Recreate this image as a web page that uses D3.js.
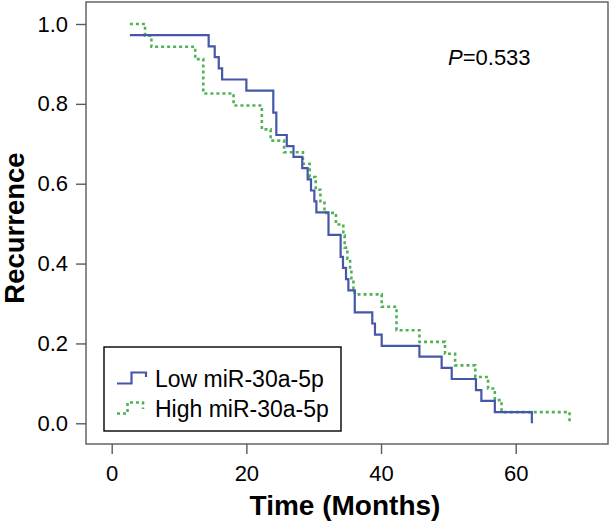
<!DOCTYPE html>
<html>
<head>
<meta charset="utf-8">
<script src="https://cdn.jsdelivr.net/npm/d3@7"></script>
<style>
  html, body { margin: 0; padding: 0; background: #fff; }
  svg { display: block; }
  text { font-family: "Liberation Sans", Arial, sans-serif; fill: #000; }
</style>
</head>
<body>
<svg id="chart" width="612" height="525"></svg>
<script>
// ---- data ----
const lowTime = [2.7, 14.4, 15.3, 15.9, 16.4, 20.0, 24.0, 24.45, 26.0, 27.0, 28.3, 29.1, 29.6, 30.1, 30.4, 32.2, 34.0, 34.35, 34.8, 35.15, 36.1, 38.7, 39.1, 40.1, 45.7, 49.0, 50.5, 54.1, 54.9, 56.9, 62.4];
const lowRec  = [0.972, 0.944, 0.917, 0.889, 0.861, 0.833, 0.778, 0.722, 0.694, 0.667, 0.639, 0.611, 0.583, 0.556, 0.528, 0.472, 0.417, 0.389, 0.361, 0.333, 0.278, 0.250, 0.222, 0.194, 0.167, 0.139, 0.111, 0.083, 0.056, 0.028, 0.0];

const highTime = [2.7, 4.95, 5.9, 12.4, 13.6, 18.1, 22.3, 23.6, 25.6, 28.4, 29.4, 30.3, 31.0, 31.6, 33.3, 34.4, 34.6, 35.0, 35.4, 35.6, 35.9, 36.1, 40.1, 42.3, 45.7, 49.5, 51.0, 54.0, 55.9, 56.9, 57.9, 68.0];
const highRec  = [1.0, 0.971, 0.943, 0.912, 0.826, 0.796, 0.736, 0.708, 0.679, 0.650, 0.617, 0.585, 0.556, 0.527, 0.498, 0.471, 0.440, 0.412, 0.385, 0.360, 0.338, 0.323, 0.292, 0.233, 0.204, 0.174, 0.145, 0.116, 0.087, 0.058, 0.028, 0.0];

const seriesNames = ["Low miR-30a-5p", "High miR-30a-5p"];
const xTicks = [0, 20, 40, 60];
const yTicks = [0.0, 0.2, 0.4, 0.6, 0.8, 1.0];
const pLabel = "=0.533";
const xTitle = "Time (Months)";
const yTitle = "Recurrence";

// ---- layout ----
const frame = { left: 86, top: 2, right: 608, bottom: 444 };
const blue = "#4657a8";
const green = "#4fb257";

const svg = d3.select("#chart");

const x = d3.scaleLinear().domain([0, 60]).range([111.7, 515.7]);
const y = d3.scaleLinear().domain([0, 1]).range([423.3, 24]);

// frame
svg.append("rect")
  .attr("x", frame.left).attr("y", frame.top)
  .attr("width", frame.right - frame.left)
  .attr("height", frame.bottom - frame.top)
  .attr("fill", "none").attr("stroke", "#5a5a5a").attr("stroke-width", 1.4);

// axes
const yAxis = d3.axisLeft(y).tickValues(yTicks).tickFormat(d3.format(".1f"))
  .tickSize(10).tickPadding(8);
const gy = svg.append("g").attr("transform", `translate(${frame.left},0)`).call(yAxis);
gy.select(".domain").remove();
gy.selectAll(".tick line").attr("stroke", "#5a5a5a").attr("stroke-width", 1.4);
gy.selectAll(".tick text").attr("font-size", 22).attr("font-family", "Liberation Sans, Arial, sans-serif").attr("fill", "#111");

const xAxis = d3.axisBottom(x).tickValues(xTicks).tickFormat(d3.format("d"))
  .tickSize(10).tickPadding(11);
const gx = svg.append("g").attr("transform", `translate(0,${frame.bottom})`).call(xAxis);
gx.select(".domain").remove();
gx.selectAll(".tick line").attr("stroke", "#5a5a5a").attr("stroke-width", 1.4);
gx.selectAll(".tick text").attr("font-size", 22).attr("font-family", "Liberation Sans, Arial, sans-serif").attr("fill", "#111");

// titles
svg.append("text")
  .attr("x", 345).attr("y", 515)
  .attr("text-anchor", "middle")
  .attr("font-size", 28).attr("font-weight", "bold")
  .text(xTitle);

svg.append("text")
  .attr("transform", "translate(24,228) rotate(-90)")
  .attr("text-anchor", "middle")
  .attr("font-size", 27.5).attr("font-weight", "bold")
  .text(yTitle);

// curves
const stepLine = d3.line()
  .x(d => x(d[0]))
  .y(d => y(d[1]))
  .curve(d3.curveStepAfter);

const lowData = lowTime.map((t, i) => [t, lowRec[i]]);
const highData = highTime.map((t, i) => [t, highRec[i]]);

svg.append("path")
  .datum(highData)
  .attr("d", stepLine)
  .attr("fill", "none")
  .attr("stroke", green)
  .attr("stroke-width", 2.6)
  .attr("stroke-dasharray", "3,3");

svg.append("path")
  .datum(lowData)
  .attr("d", stepLine)
  .attr("fill", "none")
  .attr("stroke", blue)
  .attr("stroke-width", 2.2);

// P value
const pt = svg.append("text")
  .attr("x", 448).attr("y", 65)
  .attr("font-size", 22);
pt.append("tspan").attr("font-style", "italic").text("P");
pt.append("tspan").text(pLabel);

// legend
const leg = svg.append("g");
leg.append("rect")
  .attr("x", 104).attr("y", 347)
  .attr("width", 237).attr("height", 84)
  .attr("fill", "#fff").attr("stroke", "#000").attr("stroke-width", 1.4);

const iconLine = d3.line();
leg.append("path")
  .attr("d", iconLine([[117, 383.5], [131.5, 383.5], [131.5, 372.5], [146, 372.5], [146, 377]]))
  .attr("fill", "none").attr("stroke", blue).attr("stroke-width", 2.2);
leg.append("path")
  .attr("d", iconLine([[117, 413.5], [127.5, 413.5], [127.5, 402.5], [143, 402.5], [143, 409]]))
  .attr("fill", "none").attr("stroke", green).attr("stroke-width", 2.6)
  .attr("stroke-dasharray", "3,3");

leg.append("text").attr("x", 155).attr("y", 387).attr("font-size", 23).text(seriesNames[0]);
leg.append("text").attr("x", 155).attr("y", 417).attr("font-size", 23).text(seriesNames[1]);
</script>
</body>
</html>
